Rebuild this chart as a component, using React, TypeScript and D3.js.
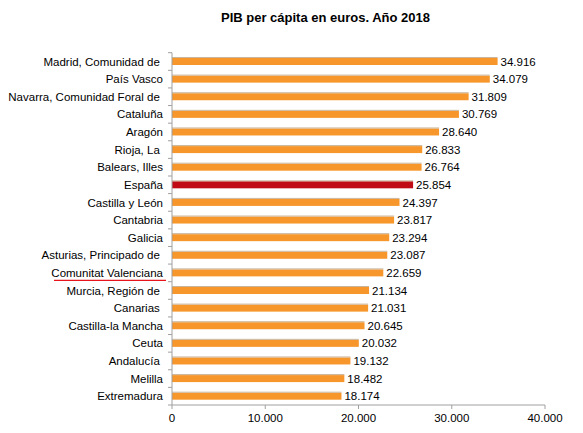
import React from "react";
import * as d3 from "d3";

const categories = [
  "Madrid, Comunidad de ",
  "País Vasco",
  "Navarra, Comunidad Foral de ",
  "Cataluña",
  "Aragón",
  "Rioja, La ",
  "Balears, Illes",
  "España",
  "Castilla y León",
  "Cantabria",
  "Galicia",
  "Asturias, Principado de ",
  "Comunitat Valenciana",
  "Murcia, Región de ",
  "Canarias ",
  "Castilla-la Mancha",
  "Ceuta",
  "Andalucía ",
  "Melilla",
  "Extremadura",
];
const values = [
  34916, 34079, 31809, 30769, 28640, 26833, 26764, 25854, 24397, 23817, 23294,
  23087, 22659, 21134, 21031, 20645, 20032, 19132, 18482, 18174,
];
const xTicks = [0, 10000, 20000, 30000, 40000];
const title = "PIB per cápita en euros. Año 2018";
const highlight = "España";
const underlined = "Comunitat Valenciana";

const W = 583;
const H = 433;
const left = 172;
const right = 545;
const top = 52.7;
const bottom = 405;

const fmt = (v: number) => d3.format(",")(v).replace(/,/g, ".");

export default function App() {
  const x = d3.scaleLinear().domain([0, 40000]).range([left, right]);
  const y = d3.scaleBand<string>().domain(categories).range([top, bottom]).paddingInner(0).paddingOuter(0);
  const bh = 7;
  const font = "Liberation Sans, Arial, sans-serif";
  return (
    <svg
      width={W}
      height={H}
      style={{ position: "absolute", left: 0, top: 0, background: "#fff" }}
      fontFamily={font}
    >
      <text x={325.5} y={21.5} textAnchor="middle" fontSize={13} fontWeight="bold" fill="#000">
        {title}
      </text>
      {categories.map((c, i) => {
        const yc = (y(c) as number) + y.bandwidth() / 2;
        const isH = c === highlight;
        return (
          <g key={c}>
            <rect
              x={x(0)}
              y={yc - bh / 2}
              width={x(values[i]) - x(0)}
              height={bh}
              fill={isH ? "#C00A14" : "#F7962B"}
            />
            <line
              x1={x(0)}
              x2={x(values[i])}
              y1={yc - bh / 2 - 0.5}
              y2={yc - bh / 2 - 0.5}
              stroke="#c9b59a"
              strokeWidth={1}
            />
            <text
              x={x(values[i]) + 3}
              y={yc}
              dy="0.36em"
              fontSize={11.5}
              fill="#000"
            >
              {fmt(values[i])}
            </text>
            <text
              x={163}
              y={yc}
              dy="0.36em"
              fontSize={11.5}
              textAnchor="end"
              fill="#000"
              style={{ whiteSpace: "pre" }}
            >
              {c}
            </text>
            {c === underlined && (
              <line x1={54} x2={166} y1={yc + 7.5} y2={yc + 7.5} stroke="#E8141C" strokeWidth={1.2} />
            )}
          </g>
        );
      })}
      {d3.range(categories.length + 1).map((i) => {
        const yy = top + i * y.step();
        return <line key={"yt" + i} x1={left - 4} x2={left} y1={yy} y2={yy} stroke="#a0a0a0" />;
      })}
      <line x1={left} x2={left} y1={top} y2={bottom} stroke="#a0a0a0" />
      <line x1={left} x2={right} y1={bottom} y2={bottom} stroke="#a0a0a0" />
      {xTicks.map((t) => (
        <g key={"xt" + t}>
          <line x1={x(t)} x2={x(t)} y1={bottom} y2={bottom + 4} stroke="#a0a0a0" />
          <text x={x(t)} y={bottom + 17} textAnchor="middle" fontSize={11.5} fill="#000">
            {fmt(t)}
          </text>
        </g>
      ))}
    </svg>
  );
}
